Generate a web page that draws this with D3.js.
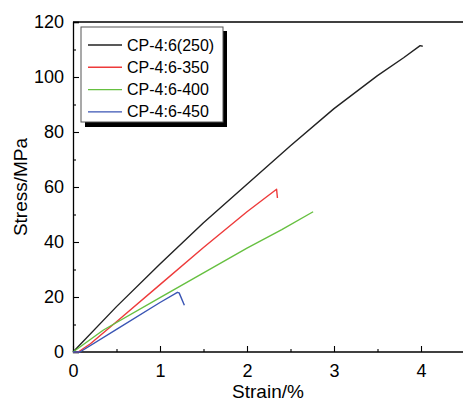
<!DOCTYPE html>
<html><head><meta charset="utf-8">
<script src="https://cdn.jsdelivr.net/npm/d3@7"></script>
<style>body{margin:0;background:#fff}svg{display:block}text{font-family:"Liberation Sans",Arial,sans-serif}</style>
</head><body>
<svg id="c" width="463" height="404"></svg>
<script>
const seriesNames = ["CP-4:6(250)", "CP-4:6-350", "CP-4:6-400", "CP-4:6-450"];
const seriesColors = ["#222222", "#ee3a3a", "#66c040", "#3a55b4"];
const strain250 = [0, 0.5, 1, 1.5, 2, 2.5, 3, 3.5, 3.8, 3.99, 4.02];
const stress250 = [0, 16.5, 32, 47, 61, 75, 88.5, 100.5, 107, 111.4, 111.2];
const strain350 = [0, 0.06, 0.2, 0.5, 1, 1.5, 2, 2.34, 2.35];
const stress350 = [0, 0, 3, 11, 24.5, 38, 51, 59.2, 56];
const strain400 = [0, 0.35, 1, 1.5, 2, 2.4, 2.76];
const stress400 = [0, 8, 19.8, 28.8, 37.8, 44.5, 51];
const strain450 = [0, 0.08, 0.5, 1, 1.2, 1.22, 1.28];
const stress450 = [0, 0, 8.2, 18, 21.7, 21.5, 17];
const xTicks = [0, 1, 2, 3, 4];
const yTicks = [0, 20, 40, 60, 80, 100, 120];

const strains = [strain250, strain350, strain400, strain450];
const stresses = [stress250, stress350, stress400, stress450];

const svg = d3.select("#c");
const x = d3.scaleLinear().domain([0, 4.5]).range([73, 464.5]);
const y = d3.scaleLinear().domain([0, 120]).range([352, 22]);

// frame top
svg.append("line").attr("x1", x(0)).attr("x2", 463).attr("y1", y(120)).attr("y2", y(120))
  .attr("stroke", "#000").attr("stroke-width", 1.3);

// axes
const xAxis = d3.axisBottom(x).tickValues(xTicks).tickSize(-6).tickPadding(12).tickFormat(d3.format("d"));
const xMinor = d3.axisBottom(x).tickValues([0.5, 1.5, 2.5, 3.5]).tickSize(-3).tickFormat("");
const yAxis = d3.axisLeft(y).tickValues(yTicks).tickSize(-6).tickPadding(9).tickFormat(d3.format("d"));
const yMinor = d3.axisLeft(y).tickValues([10, 30, 50, 70, 90, 110]).tickSize(-3).tickFormat("");

function style(g) {
  g.select(".domain").attr("stroke", "#000").attr("stroke-width", 1.3);
  g.selectAll(".tick line").attr("stroke", "#000").attr("stroke-width", 1.1);
  g.selectAll("text").attr("font-size", 18).attr("fill", "#000")
    .attr("font-family", "'Liberation Sans',Arial,sans-serif");
}
svg.append("g").attr("transform", `translate(0,${y(0)})`).call(xMinor).call(style).select(".domain").remove();
svg.append("g").attr("transform", `translate(${x(0)},0)`).call(yMinor).call(style).select(".domain").remove();
const gx = svg.append("g").attr("transform", `translate(0,${y(0)})`).call(xAxis).call(style);
gx.select(".domain").attr("d", `M${x(0)},0H463`);
svg.append("g").attr("transform", `translate(${x(0)},0)`).call(yAxis).call(style);

// curves
const line = d3.line().x(d => x(d[0])).y(d => y(d[1]));
seriesNames.forEach((n, i) => {
  const pts = strains[i].map((s, j) => [s, stresses[i][j]]);
  svg.append("path").attr("d", line(pts)).attr("fill", "none")
    .attr("stroke", seriesColors[i]).attr("stroke-width", 1.4).attr("stroke-linejoin", "round");
});

// axis titles
svg.append("text").attr("x", 268).attr("y", 398).attr("text-anchor", "middle")
  .attr("font-size", 19).text("Strain/%");
svg.append("text").attr("transform", "translate(27,187) rotate(-90)").attr("text-anchor", "middle")
  .attr("font-size", 19).text("Stress/MPa");

// legend
const lg = svg.append("g");
lg.append("rect").attr("x", 85).attr("y", 31).attr("width", 142).attr("height", 96).attr("fill", "#000");
lg.append("rect").attr("x", 81).attr("y", 27).attr("width", 142).attr("height", 95)
  .attr("fill", "#fff").attr("stroke", "#555").attr("stroke-width", 1);
seriesNames.forEach((n, i) => {
  const ly = 45 + i * 22.3;
  lg.append("line").attr("x1", 88).attr("x2", 122).attr("y1", ly).attr("y2", ly)
    .attr("stroke", seriesColors[i]).attr("stroke-width", 1.4);
  lg.append("text").attr("x", 127).attr("y", ly + 5.5).attr("font-size", 16).text(n);
});
</script>
</body></html>
